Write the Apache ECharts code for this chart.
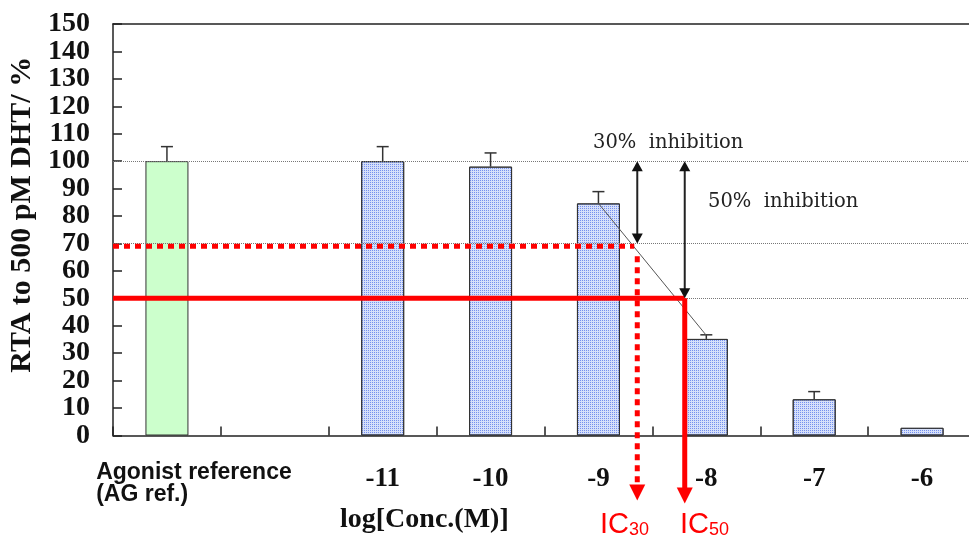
<!DOCTYPE html>
<html><head><meta charset="utf-8">
<script src="https://cdn.jsdelivr.net/npm/echarts@6/dist/echarts.min.js"></script>
<style>html,body{margin:0;padding:0;background:#fff}#c{width:969px;height:542px}</style>
</head><body><div id="c"></div>
<script>
// ---- data ----
const categories = ['Agonist reference\n(AG ref.)', '', '-11', '-10', '-9', '-8', '-7', '-6'];
const meanValues = [100, null, 100, 98, 84.6, 35.2, 13.2, 2.8];
const errorValues = [5.3, null, 5.3, 5.0, 4.3, 1.5, 2.8, 0];
const yMin = 0, yMax = 150, yInterval = 10;
const controlLevel = 100;
const referenceLevels = [100, 70, 50];
// log concentration of each category slot: slot index i -> i - 13
const logConcMin = -13.5, logConcMax = -5.5;
const trendLogConc = [-9, -8];
const trendValues = [84.6, 36.5];
const icLogConc = [-8.64, -8.20];
const icLevels = [69, 50];
const inhibitionLevels = [70, 50];
const inhibitionLabels = ['30%  inhibition', '50%  inhibition'];
const icSubscripts = ['30', '50'];

// ---- chart ----
const chart = echarts.init(document.getElementById('c'), null, {renderer: 'canvas'});
const serif = 'Liberation Serif, Times New Roman, serif';
const sans = 'Liberation Sans, Arial, sans-serif';
const red = '#ff0000';
const blueDecal = {symbol: 'rect', symbolSize: 1, color: 'rgba(75,110,232,0.7)', dashArrayX: [1, 1], dashArrayY: [1, 1], rotation: 0};

const barData = meanValues.map((v, i) => {
  if (v === null) return null;
  if (i === 0) return {value: v, itemStyle: {color: '#ccffcc', borderColor: '#333', borderWidth: 1}};
  return {value: v, itemStyle: {color: '#d6e0fa', borderColor: '#333', borderWidth: 1, decal: blueDecal}};
});
const errData = [];
meanValues.forEach((v, i) => { if (v !== null) errData.push([i, v, errorValues[i]]); });
const icData = icLogConc.map((x, i) => [x, icLevels[i], inhibitionLevels[i]]);

const icRich = {
  a: {fontFamily: sans, fontWeight: 'normal', fontSize: 29, color: red, verticalAlign: 'bottom', lineHeight: 32},
  b: {fontFamily: sans, fontWeight: 'normal', fontSize: 18, color: red, verticalAlign: 'bottom', lineHeight: 28}
};
const yLabelRich = {v: {fontFamily: serif, fontWeight: 'bold', fontSize: 28, lineHeight: 18, color: '#111'}};
function yLabelFmt(parity) {
  return function (v) { return (Math.round(v / yInterval) % 2 === parity) ? '{v|' + v + '}' : ''; };
}

const option = {
  animation: false,
  backgroundColor: '#fff',
  title: [
    {text: 'log[Conc.(M)]', left: 340, top: 506, padding: 0,
     textStyle: {fontFamily: serif, fontWeight: 'bold', fontSize: 28, color: '#111'}},
    {text: '{a|IC}{b|' + icSubscripts[0] + '}', left: 600, top: 507, padding: 0, textStyle: {fontWeight: 'normal', rich: icRich}},
    {text: '{a|IC}{b|' + icSubscripts[1] + '}', left: 680, top: 507, padding: 0, textStyle: {fontWeight: 'normal', rich: icRich}},
    {text: inhibitionLabels[0], left: 593, top: 133, padding: 0,
     textStyle: {fontFamily: 'DejaVu Serif', fontWeight: 'normal', fontSize: 19.5, color: '#222'}},
    {text: inhibitionLabels[1], left: 708, top: 192, padding: 0,
     textStyle: {fontFamily: 'DejaVu Serif', fontWeight: 'normal', fontSize: 19.5, color: '#222'}}
  ],
  grid: {left: 113, top: 24, width: 863, height: 411.5, containLabel: false, outerBoundsMode: 'none'},
  xAxis: [
    {
      type: 'category', data: categories, position: 'bottom',
      axisLine: {show: true, lineStyle: {color: '#222', width: 1.5}},
      axisTick: {show: true, inside: true, length: 9, lineStyle: {color: '#222', width: 1.5}},
      splitLine: {show: false},
      axisLabel: {
        interval: 0, margin: 26, color: '#111',
        formatter: function (v, i) {
          if (i === 0) return '{sp| }{ag|Agonist reference}\n{sp| }{ag|(AG ref.)}';
          if (!v) return '';
          return '{num|' + v + '}';
        },
        rich: {
          sp: {width: 54, align: 'left', lineHeight: 22, fontSize: 22},
          ag: {fontFamily: sans, fontWeight: 'bold', fontSize: 23, lineHeight: 22, align: 'left', color: '#111'},
          num: {fontFamily: serif, fontWeight: 'bold', fontSize: 27, lineHeight: 36, color: '#111'}
        }
      }
    },
    {
      type: 'value', min: logConcMin, max: logConcMax, position: 'top',
      axisLine: {show: true, onZero: false, lineStyle: {color: '#222', width: 1.5}},
      axisTick: {show: false}, axisLabel: {show: false}, splitLine: {show: false}
    }
  ],
  yAxis: [
    {
      type: 'value', min: yMin, max: yMax, interval: yInterval, position: 'left',
      name: 'RTA to 500 pM DHT/ %', nameLocation: 'middle', nameRotate: 90, nameGap: 70,
      nameTextStyle: {fontFamily: serif, fontWeight: 'bold', fontSize: 30, color: '#111', padding: [0, 0, 0, 30]},
      axisLine: {show: true, lineStyle: {color: '#222', width: 1.5}},
      axisTick: {show: true, inside: true, length: 9, lineStyle: {color: '#222', width: 1.5}},
      splitLine: {show: false},
      axisLabel: {margin: 23, showMinLabel: true, showMaxLabel: true, hideOverlap: false,
                  formatter: yLabelFmt(0), rich: yLabelRich}
    },
    {
      type: 'value', min: yMin, max: yMax, interval: yInterval, position: 'left', offset: 0,
      axisLine: {show: false}, axisTick: {show: false}, splitLine: {show: false},
      axisLabel: {margin: 23, showMinLabel: true, showMaxLabel: true, hideOverlap: false,
                  formatter: yLabelFmt(1), rich: yLabelRich}
    }
  ],
  series: [
    {
      type: 'bar', xAxisIndex: 0, yAxisIndex: 0, data: barData, barWidth: 43, z: 2,
      markLine: {
        silent: true, symbol: ['none', 'none'], label: {show: false},
        lineStyle: {color: '#777', type: 'dotted', width: 1},
        data: referenceLevels.map(v => ({yAxis: v}))
      }
    },
    {
      type: 'custom', xAxisIndex: 0, yAxisIndex: 0, data: errData, z: 3,
      renderItem: function (params, api) {
        const i = api.value(0), m = api.value(1), e = api.value(2);
        if (!e) return null;
        const b = api.coord([i, m]);
        const t = api.coord([i, m + e]);
        const st = {stroke: '#333', lineWidth: 1.5};
        return {type: 'group', children: [
          {type: 'line', shape: {x1: b[0], y1: b[1], x2: t[0], y2: t[1]}, style: st},
          {type: 'line', shape: {x1: t[0] - 6, y1: t[1], x2: t[0] + 6, y2: t[1]}, style: st}
        ]};
      }
    },
    {
      type: 'line', xAxisIndex: 1, yAxisIndex: 0, z: 4, symbol: 'none',
      data: trendLogConc.map((x, i) => [x, trendValues[i]]),
      lineStyle: {color: '#555', width: 1}
    },
    {
      type: 'custom', xAxisIndex: 1, yAxisIndex: 0, data: icData, z: 5, clip: false,
      renderItem: function (params, api) {
        const x = api.value(0), level = api.value(1), inh = api.value(2);
        const dashed = params.dataIndex === 0;
        const p = api.coord([x, level]);
        const l = api.coord([logConcMin, level]);
        const top = api.coord([x, controlLevel]);
        const ib = api.coord([x, inh]);
        const base = api.coord([x, 0]);
        const tipY = base[1] + (dashed ? 65 : 68);
        const rs = {stroke: red, lineWidth: 5, lineDash: dashed ? [6, 5] : null};
        const bs = {stroke: '#222', lineWidth: 2};
        return {type: 'group', children: [
          {type: 'line', shape: {x1: l[0], y1: p[1], x2: p[0] - (dashed ? 3 : 0), y2: p[1]}, style: rs},
          {type: 'line', shape: {x1: p[0], y1: p[1] + (dashed ? 10 : 0), x2: p[0], y2: tipY - 15}, style: rs},
          {type: 'polygon', shape: {points: [[p[0] - 8, tipY - 16], [p[0] + 8, tipY - 16], [p[0], tipY]]}, style: {fill: red}},
          {type: 'line', shape: {x1: top[0], y1: top[1] + 8, x2: top[0], y2: ib[1] - 8}, style: bs},
          {type: 'polygon', shape: {points: [[top[0] - 5.5, top[1] + 10], [top[0] + 5.5, top[1] + 10], [top[0], top[1]]]}, style: {fill: '#111'}},
          {type: 'polygon', shape: {points: [[ib[0] - 5.5, ib[1] - 10], [ib[0] + 5.5, ib[1] - 10], [ib[0], ib[1]]]}, style: {fill: '#111'}}
        ]};
      }
    }
  ]
};
chart.setOption(option);
</script>
</body></html>
